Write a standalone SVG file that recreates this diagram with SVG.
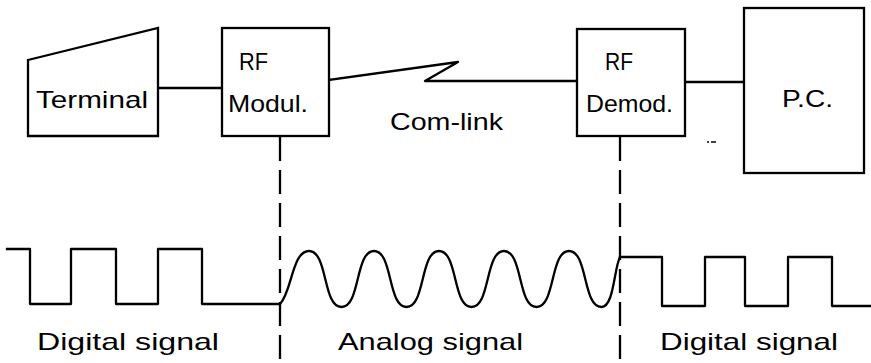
<svg xmlns="http://www.w3.org/2000/svg" width="871" height="363" viewBox="0 0 871 363">
<style>
.s{fill:none;stroke:#000;stroke-width:2.3;stroke-linejoin:round;stroke-linecap:square}
.b{fill:#fff;stroke:#000;stroke-width:2.3}
.d{fill:none;stroke:#000;stroke-width:2.3;stroke-dasharray:24 9}
text{font-family:"Liberation Sans","DejaVu Sans",Arial,sans-serif;font-size:24px;fill:#000}
</style>
<rect width="871" height="363" fill="#fff"/>
<g id="connectors">
<path class="s" d="M158,88 H222"/>
<path class="s" d="M329,80 L458,62 L425,81 H577"/>
<path class="s" d="M685,82 H744"/>
<path class="d" d="M280,137 V362"/>
<path class="d" d="M620,137 V362"/>
<path d="M707,142 H709 M711,142 H716" stroke="#000" stroke-width="1.5" fill="none"/>
</g>
<g id="terminal">
<polygon class="b" points="28,60 158,28 158,136 28,136"/>
<text x="36" y="108" textLength="112" lengthAdjust="spacingAndGlyphs">Terminal</text>
</g>
<g id="rf-modul">
<rect class="b" x="222" y="28" width="107" height="108"/>
<text x="239" y="70" textLength="29" lengthAdjust="spacingAndGlyphs">RF</text>
<text x="228" y="112" textLength="80" lengthAdjust="spacingAndGlyphs">Modul.</text>
</g>
<g id="com-link">
<text x="390" y="130" textLength="113" lengthAdjust="spacingAndGlyphs">Com-link</text>
</g>
<g id="rf-demod">
<rect class="b" x="577" y="29" width="108" height="107"/>
<text x="605" y="70" textLength="28" lengthAdjust="spacingAndGlyphs">RF</text>
<text x="586" y="112" textLength="87" lengthAdjust="spacingAndGlyphs">Demod.</text>
</g>
<g id="pc">
<rect class="b" x="744" y="8" width="120" height="165"/>
<text x="782" y="107" textLength="51" lengthAdjust="spacingAndGlyphs">P.C.</text>
</g>
<g id="signals">
<path class="s" d="M7,249 H30 V304 H71 V249 H116 V304 H158 V249 H202 V304 H280"/>
<path class="s" d="M280,304 C292,292 292,251 309,251
C328,251 322.5,307 341.5,307 C360.5,307 355,251 374,251
C393,251 387.5,307 406.5,307 C425.5,307 420,251 439,251
C458,251 452.5,307 471.5,307 C490.5,307 485,251 504,251
C523,251 517.5,307 536.5,307 C555.5,307 550,251 569,251
C588,251 582.5,307 601.5,307 C614,307 614,268 620,257"/>
<path class="s" d="M620,257 H662 V306 H705 V257 H745 V306 H788 V257 H832 V306 H870"/>
</g>
<g id="labels">
<text x="37" y="350" textLength="182" lengthAdjust="spacingAndGlyphs">Digital signal</text>
<text x="338" y="350" textLength="185" lengthAdjust="spacingAndGlyphs">Analog signal</text>
<text x="660" y="350" textLength="178" lengthAdjust="spacingAndGlyphs">Digital signal</text>
</g>
</svg>
